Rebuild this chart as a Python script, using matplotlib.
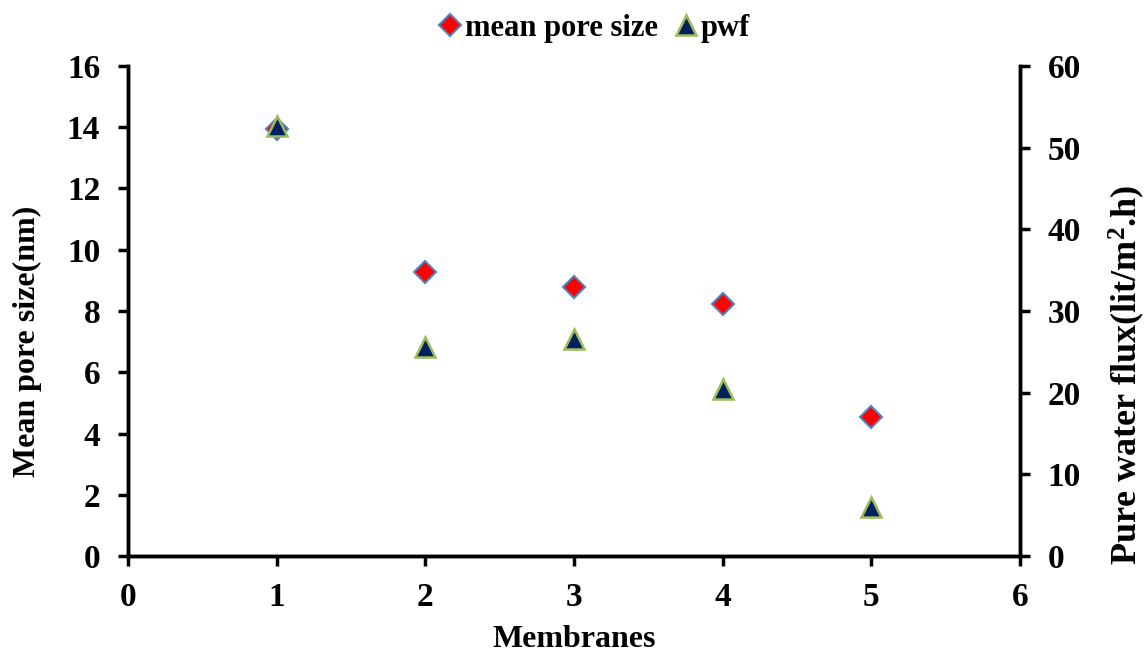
import matplotlib.pyplot as plt

membranes = [1, 2, 3, 4, 5]
mean_pore_size = [13.95, 9.27, 8.78, 8.24, 4.55]
pwf = [52.6, 25.6, 26.6, 20.4, 6.0]

plt.rcParams['font.family'] = 'Liberation Serif'
plt.rcParams['font.weight'] = 'bold'
plt.rcParams['mathtext.fontset'] = 'custom'
plt.rcParams['mathtext.bf'] = 'Liberation Serif:bold'

fig = plt.figure(figsize=(11.48, 6.52), dpi=100)
ax = fig.add_axes([0.1115, 0.1472, 0.777, 0.7516])
ax2 = ax.twinx()

ax.plot(membranes, mean_pore_size, linestyle='none', marker='D', ms=11,
        mfc='#FF0000', mec='#4F81BD', mew=1.5, label='mean pore size')
ax2.plot(membranes, pwf, linestyle='none', marker='^', ms=14,
         mfc='#002060', mec='#9BBB59', mew=1.8, label='pwf')

ax.set_xlim(0, 6)
ax.set_ylim(0, 16)
ax2.set_ylim(0, 60)
ax.set_xticks(range(0, 7))
ax.set_yticks(range(0, 17, 2))
ax2.set_yticks(range(0, 61, 10))

for a in (ax, ax2):
    for s in a.spines.values():
        s.set_linewidth(2.5)
    a.tick_params(direction='out', length=7, width=2.5, labelsize=24, pad=13)
ax.tick_params(axis='x', pad=12)
ax.spines['top'].set_visible(False)
ax2.spines['top'].set_visible(False)

ax.set_xlabel('Membranes', fontsize=23, fontweight='bold', labelpad=8)
ax.set_ylabel('Mean pore size(nm)', fontsize=23, fontweight='bold')
ax.yaxis.set_label_coords(-0.0964, 0.439)
ax2.set_ylabel('Pure water flux(lit/m$\\mathbf{^2}$.h)', fontsize=26,
               fontweight='bold', labelpad=18)
ax2.yaxis.label.set_y(0.369)

h1, l1 = ax.get_legend_handles_labels()
h2, l2 = ax2.get_legend_handles_labels()
fig.legend(h1 + h2, l1 + l2, loc='center', bbox_to_anchor=(0.516, 0.957),
           ncol=2, frameon=False, fontsize=22, handletextpad=0.0,
           columnspacing=0.4, handlelength=1.0)

fig.savefig('out.png', dpi=100)
